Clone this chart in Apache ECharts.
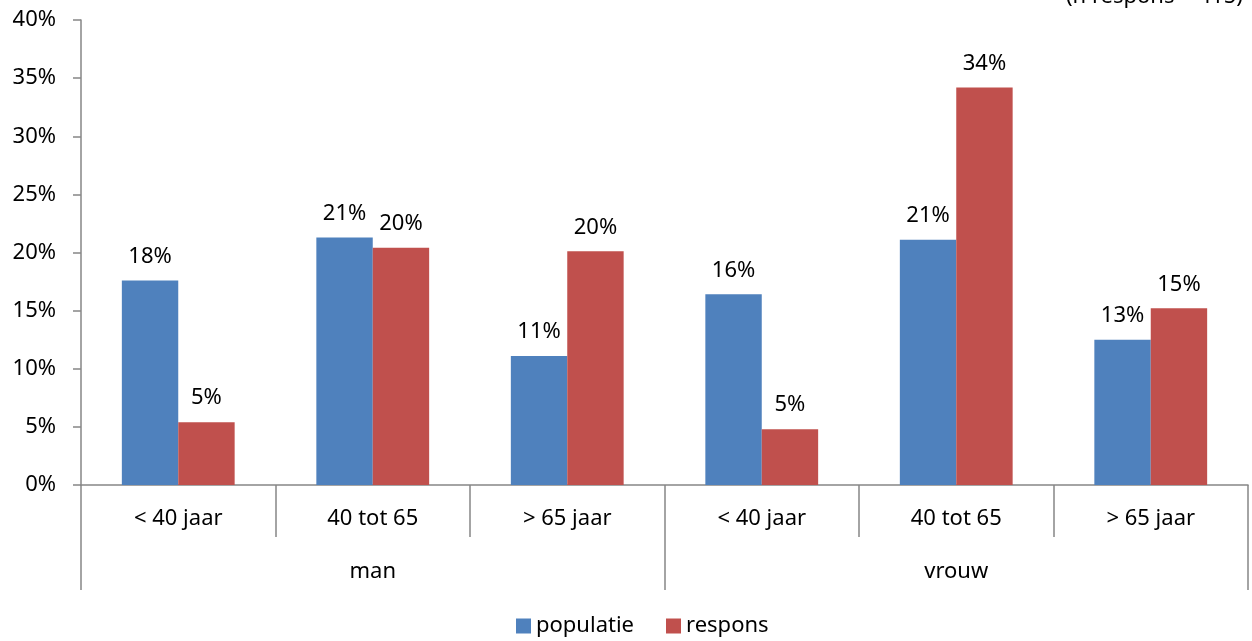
<!DOCTYPE html>
<html>
<head>
<meta charset="utf-8">
<script src="https://cdn.jsdelivr.net/npm/echarts@6/dist/echarts.min.js"></script>
<style>html,body{margin:0;padding:0;background:#fff}#c{width:1252px;height:641px}</style>
</head>
<body>
<div id="c"></div>
<script>
const categories = ['< 40 jaar', '40 tot 65', '> 65 jaar', '< 40 jaar', '40 tot 65', '> 65 jaar'];
const groups = ['man', 'vrouw'];
const populatie = [17.6, 21.3, 11.1, 16.4, 21.1, 12.5];
const respons = [5.4, 20.4, 20.1, 4.8, 34.2, 15.2];
const yTicks = { min: 0, max: 40, interval: 5 };
const note = '(n respons = 415)';

const FONT = 'Noto Sans';
const FS = 22;
const AX = '#868686';
const chart = echarts.init(document.getElementById('c'), null, { renderer: 'canvas' });
const lbl = {
  show: true, position: 'top', distance: 13,
  fontFamily: FONT, fontSize: FS, color: '#000',
  formatter: p => Math.round(p.value) + '%'
};
chart.setOption({
  animation: false,
  textStyle: { fontFamily: FONT },
  grid: { left: 81, right: 4, top: 20, bottom: 156, containLabel: false },
  legend: {
    top: 610, left: 511, icon: 'rect', itemWidth: 15, itemHeight: 15, itemGap: 32,
    textStyle: { fontFamily: FONT, fontSize: FS, color: '#000' },
    data: ['populatie', 'respons']
  },
  graphic: [{
    type: 'text', left: 1066, top: -14,
    style: { text: note, fontFamily: FONT, fontSize: FS, fill: '#000' }
  }],
  xAxis: [{
    type: 'category', data: categories, position: 'bottom',
    axisLine: { show: true, lineStyle: { color: AX, width: 1.5 } },
    axisTick: { show: true, length: 52, alignWithLabel: false, lineStyle: { color: AX, width: 1.5 } },
    axisLabel: { margin: 23, fontFamily: FONT, fontSize: FS, color: '#000', interval: 0 }
  }, {
    type: 'category', data: groups, position: 'bottom',
    axisLine: { show: false },
    axisTick: { show: true, length: 105, alignWithLabel: false, lineStyle: { color: AX, width: 1.5 } },
    axisLabel: { margin: 76, fontFamily: FONT, fontSize: FS, color: '#000' }
  }],
  yAxis: {
    type: 'value', min: yTicks.min, max: yTicks.max, interval: yTicks.interval,
    axisLine: { show: true, lineStyle: { color: AX, width: 1.5 } },
    axisTick: { show: true, length: 8, lineStyle: { color: AX, width: 1.5 } },
    splitLine: { show: false },
    axisLabel: { margin: 25, fontFamily: FONT, fontSize: FS, color: '#000', formatter: '{value}%' }
  },
  series: [{
    name: 'populatie', type: 'bar', xAxisIndex: 0, data: populatie,
    barGap: '0%', barCategoryGap: '42%',
    itemStyle: { color: '#4F81BD' }, label: lbl
  }, {
    name: 'respons', type: 'bar', xAxisIndex: 0, data: respons,
    barGap: '0%', barCategoryGap: '42%',
    itemStyle: { color: '#C0504D' }, label: lbl
  }]
});
</script>
</body>
</html>
